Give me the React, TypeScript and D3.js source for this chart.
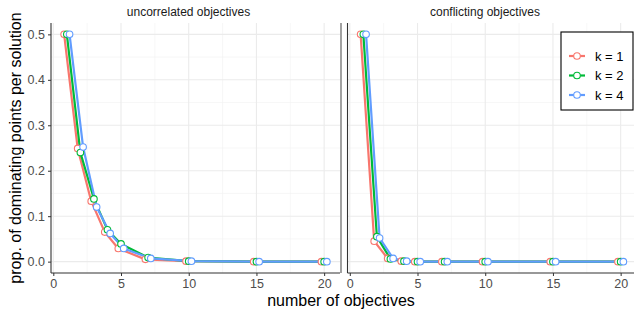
import React, { useRef, useEffect } from 'react';
import * as d3 from 'd3';

const objectives = [1, 2, 3, 4, 5, 7, 10, 15, 20];
const kLabels = ['k = 1', 'k = 2', 'k = 4'];
const colors = ['#F8766D', '#00BA38', '#619CFF'];
const panelTitles = ['uncorrelated objectives', 'conflicting objectives'];

const uncorrK1 = [0.5, 0.249, 0.133, 0.065, 0.029, 0.005, 0.001, 0, 0];
const uncorrK2 = [0.5, 0.24, 0.138, 0.07, 0.039, 0.009, 0.001, 0, 0];
const uncorrK4 = [0.5, 0.252, 0.12, 0.062, 0.029, 0.007, 0.001, 0, 0];

const conflK1 = [0.5, 0.045, 0.007, 0.001, 0, 0, 0, 0, 0];
const conflK2 = [0.5, 0.055, 0.006, 0.001, 0, 0, 0, 0, 0];
const conflK4 = [0.5, 0.052, 0.007, 0.001, 0, 0, 0, 0, 0];

const panels = [
  [uncorrK1, uncorrK2, uncorrK4],
  [conflK1, conflK2, conflK4],
];

const xTicks = [0, 5, 10, 15, 20];
const yTicks = [0, 0.1, 0.2, 0.3, 0.4, 0.5];

const App = () => {
  const ref = useRef<SVGSVGElement | null>(null);

  const width = 634;
  const height = 316;

  useEffect(() => {
    if (!ref.current) return;

    const font = '"Liberation Sans", Arial, sans-serif';
    const top = 23;
    const bottom = 273;
    const panelLefts = [51, 347.5];
    const panelWidth = 289;
    const dodge = 0.2;

    const svg = d3.select(ref.current);
    svg.selectAll('*').remove();
    svg.style('font-family', font);

    const y = d3.scaleLinear().domain([-0.025, 0.525]).range([bottom, top]);

    panels.forEach((series, pi) => {
      const left = panelLefts[pi];
      const x = d3
        .scaleLinear()
        .domain([-0.17, 21.17])
        .range([left, left + panelWidth]);

      const g = svg.append('g');

      // grid
      const minorX = [2.5, 7.5, 12.5, 17.5];
      const minorY = [0.05, 0.15, 0.25, 0.35, 0.45];
      g.selectAll('.mx')
        .data(minorX)
        .join('line')
        .attr('x1', (d) => x(d))
        .attr('x2', (d) => x(d))
        .attr('y1', top)
        .attr('y2', bottom)
        .attr('stroke', '#f2f2f2')
        .attr('stroke-width', 0.6);
      g.selectAll('.my')
        .data(minorY)
        .join('line')
        .attr('x1', left)
        .attr('x2', left + panelWidth)
        .attr('y1', (d) => y(d))
        .attr('y2', (d) => y(d))
        .attr('stroke', '#f2f2f2')
        .attr('stroke-width', 0.6);
      g.selectAll('.gx')
        .data(xTicks)
        .join('line')
        .attr('x1', (d) => x(d))
        .attr('x2', (d) => x(d))
        .attr('y1', top)
        .attr('y2', bottom)
        .attr('stroke', '#ebebeb')
        .attr('stroke-width', 1.1);
      g.selectAll('.gy')
        .data(yTicks)
        .join('line')
        .attr('x1', left)
        .attr('x2', left + panelWidth)
        .attr('y1', (d) => y(d))
        .attr('y2', (d) => y(d))
        .attr('stroke', '#ebebeb')
        .attr('stroke-width', 1.1);

      // strip title
      svg
        .append('text')
        .attr('x', left + panelWidth / 2 - 7)
        .attr('y', 16)
        .attr('text-anchor', 'middle')
        .attr('font-size', 12)
        .attr('fill', '#1a1a1a')
        .text(panelTitles[pi]);

      // lines
      const line = d3
        .line<number>()
        .x((_, i) => 0)
        .y((d) => y(d));
      series.forEach((vals, si) => {
        const off = (si - 1) * dodge;
        g.append('path')
          .datum(vals)
          .attr(
            'd',
            line.x((_, i) => x(objectives[i] + off))
          )
          .attr('fill', 'none')
          .attr('stroke', colors[si])
          .attr('stroke-width', 2.2)
          .attr('stroke-linejoin', 'round');
      });
      series.forEach((vals, si) => {
        const off = (si - 1) * dodge;
        g.selectAll(`.pt${si}`)
          .data(vals)
          .join('circle')
          .attr('cx', (_, i) => x(objectives[i] + off))
          .attr('cy', (d) => y(d))
          .attr('r', 3.3)
          .attr('fill', 'white')
          .attr('stroke', colors[si])
          .attr('stroke-width', 1.1);
      });

      // axes lines
      g.append('line')
        .attr('x1', left)
        .attr('x2', left)
        .attr('y1', top)
        .attr('y2', bottom)
        .attr('stroke', '#333')
        .attr('stroke-width', 1.1);
      g.append('line')
        .attr('x1', left)
        .attr('x2', left + panelWidth)
        .attr('y1', bottom)
        .attr('y2', bottom)
        .attr('stroke', '#333')
        .attr('stroke-width', 1.1);
      if (pi === 0) {
        g.append('line')
          .attr('x1', left + panelWidth + 1)
          .attr('x2', left + panelWidth + 1)
          .attr('y1', top)
          .attr('y2', bottom)
          .attr('stroke', '#555')
          .attr('stroke-width', 1.1);
      }

      // x axis
      const xa = g
        .append('g')
        .attr('transform', `translate(0,${bottom})`)
        .call(d3.axisBottom(x).tickValues(xTicks).tickSize(3).tickPadding(3));
      xa.select('.domain').remove();
      xa.selectAll('line').attr('stroke', '#333');
      xa.selectAll('text')
        .attr('fill', '#4d4d4d')
        .attr('font-size', 12.5)
        .attr('font-family', font);

      if (pi === 0) {
        const ya = g
          .append('g')
          .attr('transform', `translate(${left},0)`)
          .call(
            d3
              .axisLeft(y)
              .tickValues(yTicks)
              .tickFormat(d3.format('.1f'))
              .tickSize(3)
              .tickPadding(3)
          );
        ya.select('.domain').remove();
        ya.selectAll('line').attr('stroke', '#333');
        ya.selectAll('text')
          .attr('fill', '#4d4d4d')
          .attr('font-size', 12.5)
          .attr('font-family', font);
      }
    });

    // axis titles
    svg
      .append('text')
      .attr('x', 341)
      .attr('y', 306)
      .attr('text-anchor', 'middle')
      .attr('font-size', 16)
      .attr('fill', 'black')
      .text('number of objectives');
    svg
      .append('text')
      .attr('transform', `translate(21,${(top + bottom) / 2}) rotate(-90)`)
      .attr('text-anchor', 'middle')
      .attr('font-size', 16)
      .attr('fill', 'black')
      .text('prop. of dominating points per solution');

    // legend
    const lg = svg.append('g').attr('transform', 'translate(561,32)');
    lg.append('rect')
      .attr('width', 72)
      .attr('height', 78)
      .attr('fill', 'white')
      .attr('stroke', 'black')
      .attr('stroke-width', 1.1);
    kLabels.forEach((lab, i) => {
      const cy = 24 + i * 19.5;
      lg.append('line')
        .attr('x1', 8)
        .attr('x2', 24)
        .attr('y1', cy)
        .attr('y2', cy)
        .attr('stroke', colors[i])
        .attr('stroke-width', 2.2);
      lg.append('circle')
        .attr('cx', 16)
        .attr('cy', cy)
        .attr('r', 3.3)
        .attr('fill', 'white')
        .attr('stroke', colors[i])
        .attr('stroke-width', 1.1);
      lg.append('text')
        .attr('x', 34)
        .attr('y', cy + 4.5)
        .attr('font-size', 13)
        .attr('fill', 'black')
        .text(lab);
    });
  });

  return (
    <svg
      ref={ref}
      width={width}
      height={height}
      viewBox={`0 0 ${width} ${height}`}
      style={{ position: 'absolute', left: 0, top: 0, background: 'white' }}
    />
  );
};

export default App;
